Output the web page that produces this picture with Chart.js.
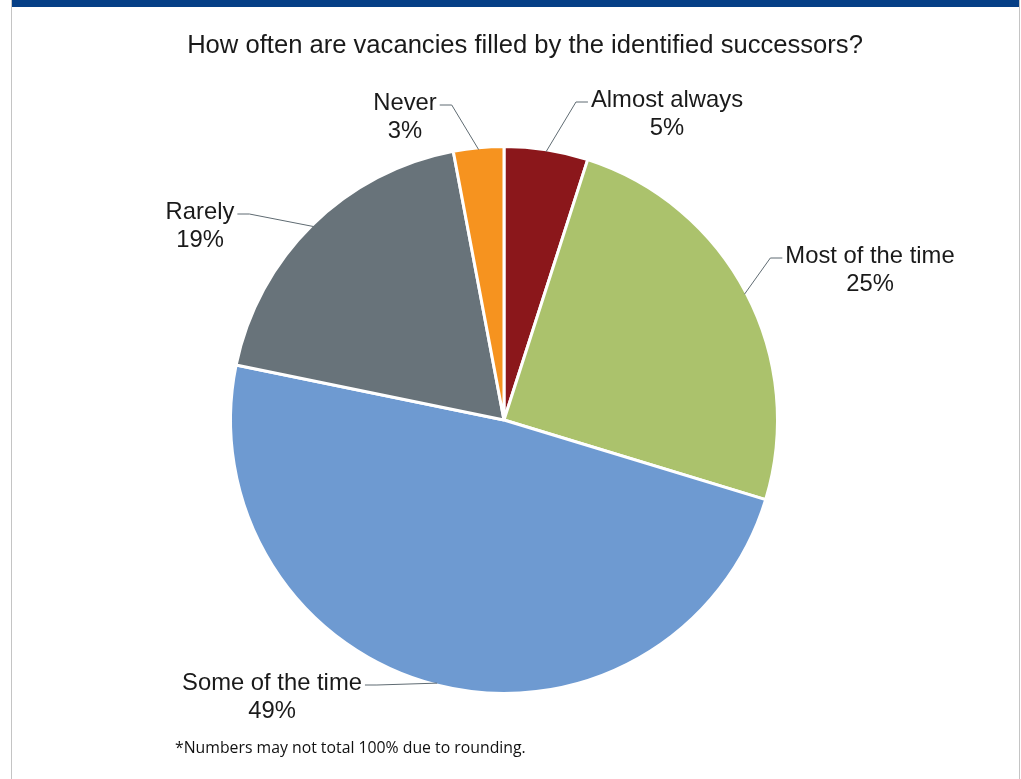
<!DOCTYPE html>
<html>
<head>
<meta charset="utf-8">
<title>Vacancies filled by identified successors</title>
<script src="https://cdn.jsdelivr.net/npm/chart.js@4"></script>
<style>
    html, body { margin: 0; padding: 0; background: #fff; }
    body { width: 1021px; height: 779px; position: relative; overflow: hidden; }
    .frame {
        position: absolute; left: 11px; top: 0; width: 1007px; height: 779px;
        border-left: 1px solid #c4c4c4; border-right: 1px solid #c4c4c4;
    }
    .topbar { position: absolute; left: 12px; top: 0; width: 1007px; height: 7px; background: #063f86; }
    #wrap { position: absolute; left: 0; top: 0; width: 1021px; height: 779px; }
    .note {
        position: absolute; left: 175px; top: 736px;
        font-family: "Open Sans", sans-serif; font-size: 15.8px; color: #111;
    }
</style>
</head>
<body>
<div class="frame"></div>
<div class="topbar"></div>
<div id="wrap"><canvas id="pieChart" width="1021" height="779"></canvas></div>
<div class="note">*Numbers may not total 100% due to rounding.</div>

<script>
// Chart data
const categories = ['Almost always', 'Most of the time', 'Some of the time', 'Rarely', 'Never'];
const percentages = [5, 25, 49, 19, 3];
const sliceColors = ['#8b171b', '#abc26c', '#6e9ad1', '#68737a', '#f6931f'];

// Where each label sits (text centre) and which side the leader joins
const labelLayout = [
    { x: 667, y: 100, side: 'left' },
    { x: 870, y: 256, side: 'left' },
    { x: 272, y: 683, side: 'right' },
    { x: 200, y: 212, side: 'right' },
    { x: 405, y: 103, side: 'right' }
];

/**
 * Draws the outside labels with their leader lines
 */
const leaderLabels = {
    id: 'leaderLabels',
    afterDatasetsDraw(chart) {
        const ctx = chart.ctx;
        const arcs = chart.getDatasetMeta(0).data;
        ctx.save();
        ctx.font = '23.8px "Liberation Sans", Arial, sans-serif';
        ctx.textAlign = 'center';
        ctx.textBaseline = 'middle';

        arcs.forEach(function(arc, i) {
            const pos = labelLayout[i];
            const mid = (arc.startAngle + arc.endAngle) / 2;
            const r = arc.outerRadius - 2;
            const ax = arc.x + Math.cos(mid) * r;
            const ay = arc.y + Math.sin(mid) * r;

            const w = ctx.measureText(categories[i]).width;
            let edge, elbow;
            if (pos.side === 'left') {
                edge = pos.x - w / 2 - 3;
                elbow = edge - 12;
            } else {
                edge = pos.x + w / 2 + 3;
                elbow = edge + 12;
            }
            const ly = pos.y + 2;

            ctx.strokeStyle = '#5f6b72';
            ctx.lineWidth = 1;
            ctx.beginPath();
            ctx.moveTo(ax, ay);
            ctx.lineTo(elbow, ly);
            ctx.lineTo(edge, ly);
            ctx.stroke();

            ctx.fillStyle = '#1a1a1a';
            ctx.fillText(categories[i], pos.x, pos.y);
            ctx.fillText(percentages[i] + '%', pos.x, pos.y + 28);
        });
        ctx.restore();
    }
};

document.addEventListener('DOMContentLoaded', function() {
    const ctx = document.getElementById('pieChart').getContext('2d');
    const pieChart = new Chart(ctx, {
        type: 'pie',
        data: {
            labels: categories,
            datasets: [{
                data: percentages,
                backgroundColor: sliceColors,
                borderColor: '#ffffff',
                borderWidth: 3
            }]
        },
        options: {
            responsive: false,
            animation: false,
            layout: {
                padding: { top: 145, bottom: 84, left: 229, right: 242 }
            },
            plugins: {
                legend: { display: false },
                tooltip: { enabled: false },
                title: { display: false }
            }
        },
        plugins: [leaderLabels, {
            id: 'topTitle',
            afterDraw(chart) {
                const c = chart.ctx;
                c.save();
                c.font = '25.6px "Liberation Sans", Arial, sans-serif';
                c.fillStyle = '#1a1a1a';
                c.textAlign = 'center';
                c.textBaseline = 'alphabetic';
                c.fillText('How often are vacancies filled by the identified successors?', 525, 53);
                c.restore();
            }
        }]
    });
});
</script>
</body>
</html>
